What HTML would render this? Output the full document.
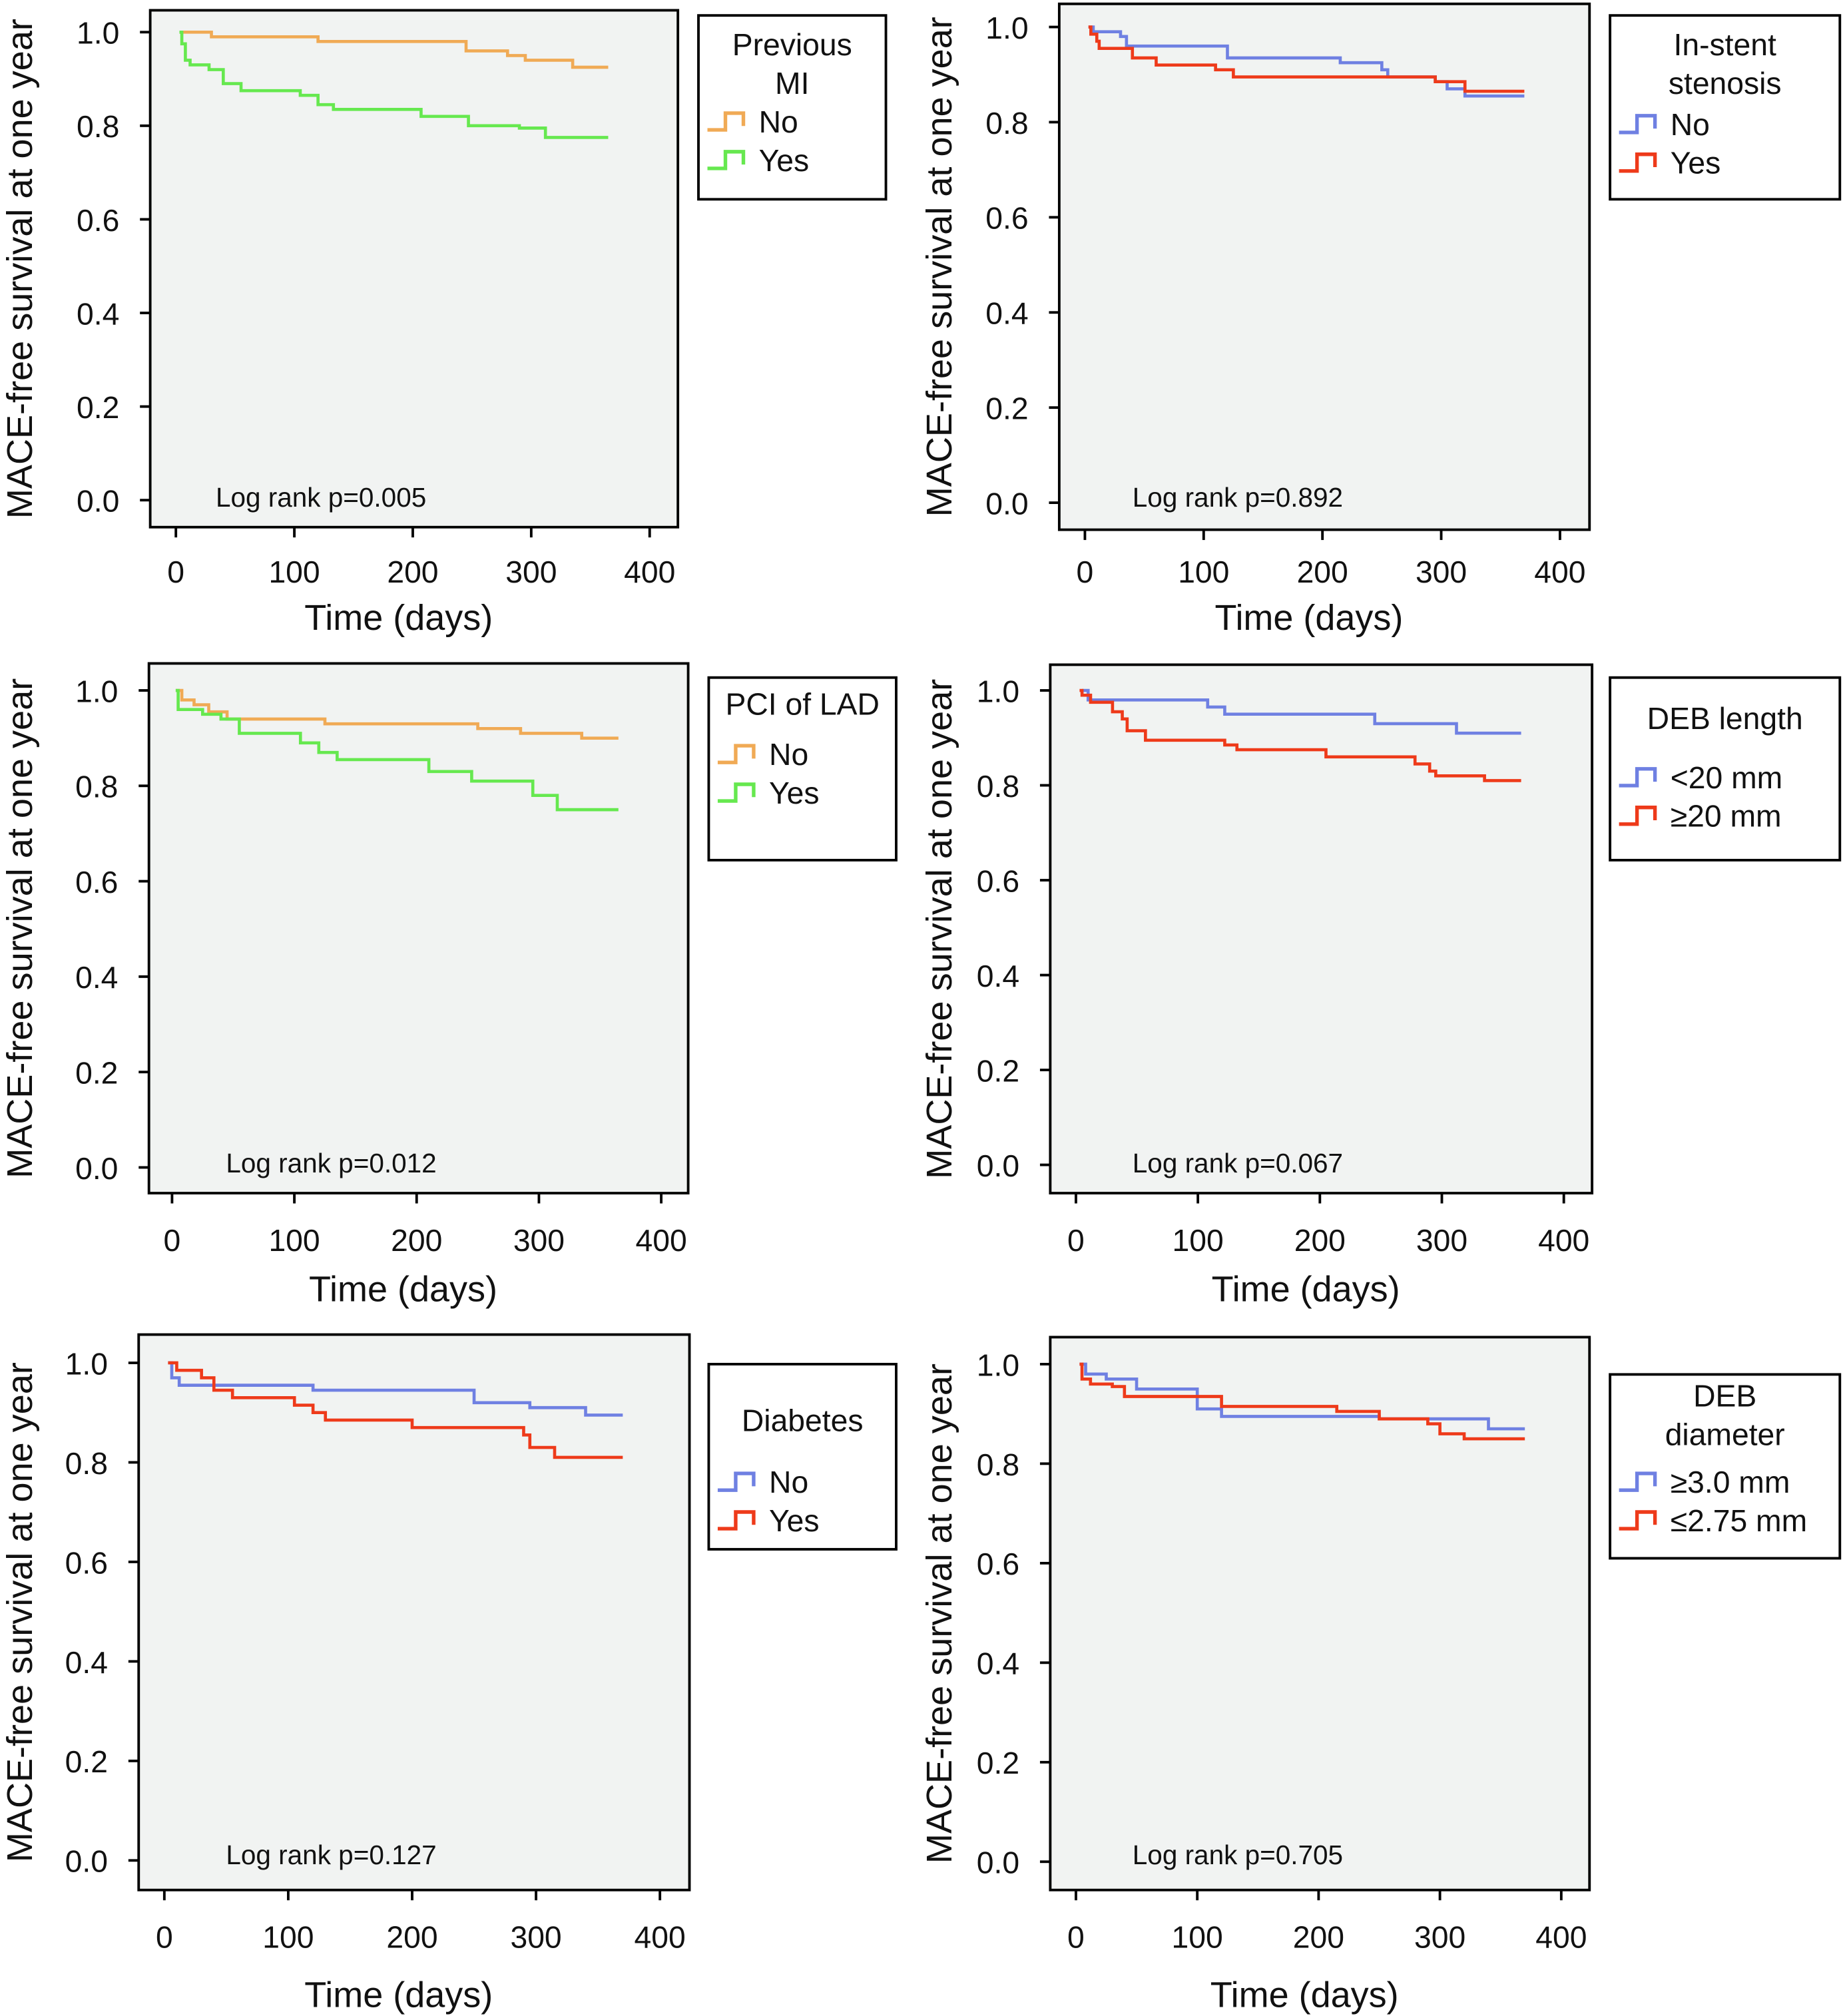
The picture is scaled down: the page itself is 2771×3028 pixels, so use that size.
<!DOCTYPE html>
<html><head><meta charset="utf-8">
<style>
html,body{margin:0;padding:0;background:#fff;}
svg{display:block;}
text{font-family:"Liberation Sans",Arial,sans-serif;fill:#111;}
.tick{font-size:24px;}
.ttl{font-size:28px;}
.lr{font-size:21px;}
.lg{font-size:24px;}
</style></head>
<body>
<svg id="fig" width="2771" height="3028" viewBox="0 0 1437 1568" preserveAspectRatio="none" xmlns="http://www.w3.org/2000/svg"></svg>
<script>
// ---- data (time in days, survival proportion) ----
const xTicks = [0,100,200,300,400];
const yTicks = [0.0,0.2,0.4,0.6,0.8,1.0];
const yTickLabels = ["0.0","0.2","0.4","0.6","0.8","1.0"];
const xTickLabels = ["0","100","200","300","400"];
const panelTitles = [["Previous","MI"],["In-stent","stenosis"],["PCI of LAD"],["DEB length"],["Diabetes"],["DEB","diameter"]];
const panelLabels = [["No","Yes"],["No","Yes"],["No","Yes"],["<20 mm","\u226520 mm"],["No","Yes"],["\u22653.0 mm","\u22642.75 mm"]];
const logRank = ["Log rank p=0.005","Log rank p=0.892","Log rank p=0.012","Log rank p=0.067","Log rank p=0.127","Log rank p=0.705"];

const p1aT = [3,30,120,245,280,295,335,365];
const p1aS = [1.0,0.99,0.98,0.96,0.95,0.94,0.925,0.925];
const p1bT = [3,5,8,12,28,40,55,105,120,133,207,247,290,312,365];
const p1bS = [1.0,0.975,0.94,0.93,0.92,0.89,0.875,0.865,0.845,0.835,0.82,0.80,0.795,0.775,0.775];

const p2aT = [3,7,30,35,120,215,250,255,295,305,320,370];
const p2aS = [1.0,0.99,0.98,0.96,0.935,0.925,0.91,0.895,0.885,0.87,0.855,0.855];
const p2bT = [3,5,10,12,40,60,110,125,295,320,370];
const p2bS = [1.0,0.985,0.97,0.955,0.935,0.92,0.91,0.895,0.885,0.865,0.865];

const p3aT = [3,8,18,30,45,125,250,285,335,365];
const p3aS = [1.0,0.98,0.97,0.955,0.94,0.93,0.92,0.91,0.90,0.90];
const p3bT = [3,5,25,40,55,105,120,135,210,245,295,315,365];
const p3bS = [1.0,0.96,0.95,0.94,0.91,0.89,0.87,0.855,0.83,0.81,0.78,0.75,0.75];

const p4aT = [5,10,108,122,245,312,365];
const p4aS = [1.0,0.98,0.965,0.95,0.93,0.91,0.91];
const p4bT = [3,5,12,30,38,42,57,122,132,205,278,290,295,335,365];
const p4bS = [1.0,0.99,0.975,0.955,0.94,0.915,0.895,0.885,0.875,0.86,0.845,0.83,0.82,0.81,0.81];

const p5aT = [3,6,12,120,250,295,340,370];
const p5aS = [1.0,0.97,0.955,0.945,0.92,0.91,0.895,0.895];
const p5bT = [3,10,30,40,55,105,120,130,200,290,295,315,370];
const p5bS = [1.0,0.985,0.97,0.945,0.93,0.915,0.90,0.885,0.87,0.855,0.83,0.81,0.81];

const p6aT = [3,8,25,50,100,120,250,340,370];
const p6aS = [1.0,0.98,0.97,0.95,0.91,0.895,0.89,0.87,0.87];
const p6bT = [3,5,12,30,40,120,215,250,290,300,320,370];
const p6bS = [1.0,0.97,0.96,0.955,0.935,0.915,0.905,0.89,0.88,0.86,0.85,0.85];

const seriesT = [[p1aT,p1bT],[p2aT,p2bT],[p3aT,p3bT],[p4aT,p4bT],[p5aT,p5bT],[p6aT,p6bT]];
const seriesS = [[p1aS,p1bS],[p2aS,p2bS],[p3aS,p3bS],[p4aS,p4bS],[p5aS,p5bS],[p6aS,p6bS]];

// ---- layout ----
const layouts = [
 {box:[117,8,528,410], x0:137,x400:506, y1:25,y0:389, tl:444, xt:480, leg:[544,12,690,155], cols:["#F0AA55","#66E84F"], lr:[168,387], yx:25, tY:[35,65], fY:94},
 {box:[825,3,1238,412], x0:845,x400:1215, y1:21,y0:391, tl:444, xt:480, leg:[1254,12,1433,155], cols:["#6F80E2","#EE3A1A"], lr:[882,387], yx:741, tY:[35,65], fY:96},
 {box:[116,516,536,928], x0:134,x400:515, y1:537,y0:908, tl:964, xt:1002, leg:[552,527,698,669], cols:["#F0AA55","#66E84F"], lr:[176,905], yx:25, tY:[548], fY:586},
 {box:[818,517,1240,928], x0:838,x400:1218, y1:537,y0:906, tl:964, xt:1002, leg:[1254,527,1433,669], cols:["#6F80E2","#EE3A1A"], lr:[882,905], yx:741, tY:[559], fY:604},
 {box:[108,1038,537,1470], x0:128,x400:514, y1:1060,y0:1447, tl:1506, xt:1551, leg:[552,1061,698,1205], cols:["#6F80E2","#EE3A1A"], lr:[176,1443], yx:25, tY:[1105], fY:1152},
 {box:[818,1040,1238,1470], x0:838,x400:1216, y1:1061,y0:1448, tl:1506, xt:1551, leg:[1254,1069,1433,1212], cols:["#6F80E2","#EE3A1A"], lr:[882,1443], yx:741, tY:[1086,1116], fY:1152}
];
const NS="http://www.w3.org/2000/svg";
const svg=document.getElementById('fig');
function mk(tag,attrs,parent){const e=document.createElementNS(NS,tag);for(const k in attrs)e.setAttribute(k,attrs[k]);(parent||svg).appendChild(e);return e;}

layouts.forEach((L,i)=>{
  const g=mk('g',{});
  
  
  const xs=t=>L.x0+(L.x400-L.x0)*t/400;
  const ys=s=>L.y0+(L.y1-L.y0)*s;
  const [bx0,by0,bx1,by1]=L.box;
  const bg=mk('rect',{x:bx0,y:by0,width:bx1-bx0,height:by1-by0,fill:'#F1F3F2',stroke:'#000','stroke-width':2},g);
  
  
  yTicks.forEach((v,k)=>{
    mk('line',{x1:bx0-8,x2:bx0,y1:ys(v),y2:ys(v),stroke:'#000','stroke-width':2},g);
    const t=mk('text',{x:bx0-24,y:ys(v)+9,'text-anchor':'end',class:'tick'},g);
    t.textContent=yTickLabels[k];
    
    
  });
  xTicks.forEach((v,k)=>{
    mk('line',{x1:xs(v),x2:xs(v),y1:by1,y2:by1+8,stroke:'#000','stroke-width':2},g);
    const t=mk('text',{x:xs(v),y:L.tl+9,'text-anchor':'middle',class:'tick'},g);
    t.textContent=xTickLabels[k];
    
    
  });
  const xt=mk('text',{x:(bx0+bx1)/2-12,y:L.xt+10,'text-anchor':'middle',class:'ttl'},g);
  xt.textContent='Time (days)';
  
  
  const ycx=L.yx, ycy=(by0+by1)/2;
  const yt=mk('text',{x:ycx,y:ycy,'text-anchor':'middle',class:'ttl',transform:`rotate(-90 ${ycx} ${ycy})`},g);
  yt.textContent='MACE-free survival at one year';
  
  
  const lr=mk('text',{x:L.lr[0],y:L.lr[1]+7,class:'lr'},g);
  lr.textContent=logRank[i];
  
  
  // curves
  [0,1].forEach(j=>{
    const T=seriesT[i][j],S=seriesS[i][j];
    let d=`M${xs(T[0])},${ys(S[0])}`;
    for(let k=1;k<T.length;k++){d+=` H${xs(T[k])} V${ys(S[k])}`;}
    const p=mk('path',{d:d,fill:'none',stroke:L.cols[j],'stroke-width':2.4},g);
    
    
  });
  // legend
  const [lx0,ly0,lx1,ly1]=L.leg;
  const lb=mk('rect',{x:lx0,y:ly0,width:lx1-lx0,height:ly1-ly0,fill:'#fff',stroke:'#000','stroke-width':2},g);
  
  
  const cx=(lx0+lx1)/2;
  panelTitles[i].forEach((s,k)=>{
    const t=mk('text',{x:cx,y:L.tY[k]+8,'text-anchor':'middle',class:'lg'},g);
    t.textContent=s;
    
    
  });
  [0,1].forEach(j=>{
    const yy=L.fY+j*30;
    const sx=lx0+7;
    const sym=mk('path',{d:`M${sx},${yy+7} H${sx+14} V${yy-6} H${sx+28} V${yy+4}`,fill:'none',stroke:L.cols[j],'stroke-width':2.8},g);
    
    
    const t=mk('text',{x:sx+40,y:yy+9,class:'lg'},g);
    t.textContent=panelLabels[i][j];
    
    
  });
});
</script>
</body></html>
